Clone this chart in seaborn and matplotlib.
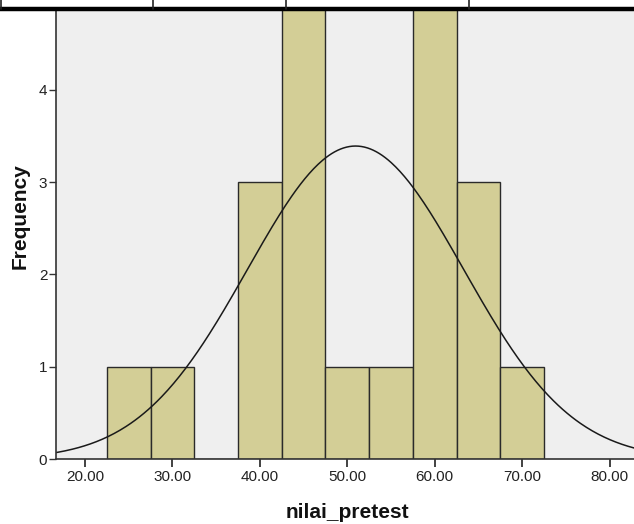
import numpy as np
import pandas as pd
import matplotlib
matplotlib.use("Agg")
import matplotlib.pyplot as plt
from matplotlib.lines import Line2D
import seaborn as sns

# Data
bin_edges = [22.5, 27.5, 32.5, 37.5, 42.5, 47.5, 52.5, 57.5, 62.5, 67.5, 72.5]
bin_centers = [25, 30, 35, 40, 45, 50, 55, 60, 65, 70]
counts = [1, 1, 0, 3, 5, 1, 1, 5, 3, 1]
mean_val = 50.95
sd_val = 12.36
n_total = 21
x_ticks = [20, 30, 40, 50, 60, 70, 80]
y_ticks = [0, 1, 2, 3, 4]

sns.set_style("white")
plt.rcParams['font.family'] = ['Liberation Sans', 'DejaVu Sans']

fig = plt.figure(figsize=(6.34, 5.24), dpi=100)
W, H = 634, 524
ax = fig.add_axes([55.7 / W, 1 - 459.3 / H, 1 - 55.7 / W, (459.3 - 11) / H])
ax.set_facecolor('#EFEFEF')

df = pd.DataFrame({"nilai_pretest": bin_centers, "w": counts})
sns.histplot(data=df, x="nilai_pretest", weights="w", bins=bin_edges, ax=ax,
             color='#D3CE96', alpha=1.0, edgecolor='#2a2a2a', linewidth=1.0)

# Normal curve from mean / sd
xs = np.linspace(16.0, 84.0, 400)
bw = 5.0
ys = n_total * bw / (sd_val * np.sqrt(2 * np.pi)) * np.exp(-0.5 * ((xs - mean_val) / sd_val) ** 2)
sns.lineplot(x=xs, y=ys, ax=ax, color='#1a1a1a', linewidth=1.1)

ax.set_xlim(16.65, 82.8)
ax.set_ylim(0, 4.85)
ax.set_xticks(x_ticks)
ax.set_xticklabels([f"{v:.2f}" for v in x_ticks], fontsize=11, color='#222222')
ax.set_yticks(y_ticks)
ax.set_yticklabels([str(v) for v in y_ticks], fontsize=11, color='#222222')
ax.tick_params(axis='x', bottom=True, direction='out', length=6, width=1.3, color='#333333', pad=2)
ax.tick_params(axis='y', left=True, direction='out', length=5, width=1.0, color='#333333', pad=1)
for s in ['top', 'right']:
    ax.spines[s].set_visible(False)
for s in ['left', 'bottom']:
    ax.spines[s].set_color('#333333')
    ax.spines[s].set_linewidth(1.2)

ax.set_xlabel("")
ax.set_ylabel("")
fig.text(347 / W, 1 - 512 / H, "nilai_pretest", ha='center', va='center',
         fontsize=15, fontweight='bold', color='#111111')
fig.text(20 / W, 1 - 216 / H, "Frequency", ha='center', va='center', rotation=90,
         fontsize=15, fontweight='bold', color='#111111')

# Cropped table border at the top
fig.add_artist(Line2D([0, 1], [1 - 8.5 / H, 1 - 8.5 / H], transform=fig.transFigure,
                      color='black', linewidth=3.2))
for xp in [1, 153, 286, 469]:
    fig.add_artist(Line2D([xp / W, xp / W], [1, 1 - 9 / H], transform=fig.transFigure,
                          color='#222222', linewidth=1.2))

fig.savefig("out.png", dpi=100, facecolor='white')
